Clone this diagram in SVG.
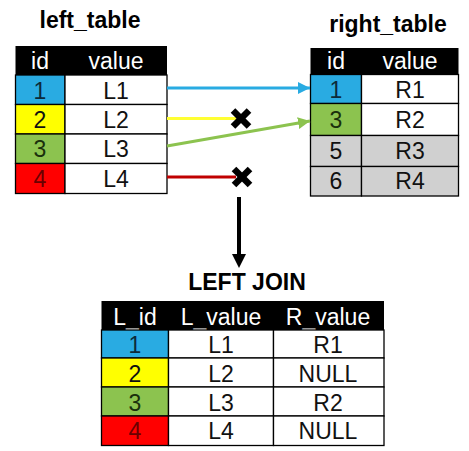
<svg xmlns="http://www.w3.org/2000/svg" width="469" height="451" viewBox="0 0 469 451">
<defs>
<style>
text{font-family:"Liberation Sans",Arial,sans-serif;text-anchor:middle}
.title{font-size:23px;font-weight:bold;fill:#000}
.hd{font-size:23px;fill:#fff}
.c{font-size:23px;fill:#111}
.hdr{fill:#000}
.cell{stroke:#000;stroke-width:1.3}
.w{fill:#fff}
.b{fill:#29abe2}
.y{fill:#ffff00}
.g{fill:#8cc34f}
.r{fill:#ff0000}
.gr{fill:#d0d0d0}
.tb{fill:#0c2a3a}
.tg{fill:#1a300c}
.tr{fill:#6a0000}
.x{stroke:#000;stroke-width:6.5;stroke-linecap:butt}
</style>
<marker id="ab" viewBox="0 0 10 10" refX="10" refY="5" markerWidth="4" markerHeight="4" markerUnits="strokeWidth" orient="auto"><path d="M0,0L10,5L0,10z" fill="#29abe2"/></marker>
<marker id="ag" viewBox="0 0 10 10" refX="10" refY="5" markerWidth="4" markerHeight="4" markerUnits="strokeWidth" orient="auto"><path d="M0,0L10,5L0,10z" fill="#8cc34f"/></marker>
</defs>

<g id="left_table">
<text class="title" x="90" y="28">left_table</text>
<rect class="hdr" x="15.5" y="46" width="151.5" height="29"/>
<text class="hd" x="40" y="69">id</text>
<text class="hd" x="116" y="69">value</text>
<rect class="cell b" x="15.5" y="75" width="49.5" height="29.5"/>
<rect class="cell w" x="65" y="75" width="102" height="29.5"/>
<rect class="cell y" x="15.5" y="104.5" width="49.5" height="29.5"/>
<rect class="cell w" x="65" y="104.5" width="102" height="29.5"/>
<rect class="cell g" x="15.5" y="134" width="49.5" height="29.5"/>
<rect class="cell w" x="65" y="134" width="102" height="29.5"/>
<rect class="cell r" x="15.5" y="163.5" width="49.5" height="30"/>
<rect class="cell w" x="65" y="163.5" width="102" height="30"/>
<text class="c tb" x="40" y="98.5">1</text><text class="c" x="116" y="98.5">L1</text>
<text class="c" x="40" y="128">2</text><text class="c" x="116" y="128">L2</text>
<text class="c tg" x="40" y="157">3</text><text class="c" x="116" y="157">L3</text>
<text class="c tr" x="40" y="186.5">4</text><text class="c" x="116" y="186.5">L4</text>
</g>

<g id="right_table">
<text class="title" x="388" y="32">right_table</text>
<rect class="hdr" x="310.5" y="48" width="148" height="26.5"/>
<text class="hd" x="336" y="69">id</text>
<text class="hd" x="410" y="69">value</text>
<rect class="cell b" x="310.5" y="74.5" width="51" height="29"/>
<rect class="cell w" x="361.5" y="74.5" width="97" height="29"/>
<rect class="cell g" x="310.5" y="103.5" width="51" height="32"/>
<rect class="cell w" x="361.5" y="103.5" width="97" height="32"/>
<rect class="cell gr" x="310.5" y="135.5" width="51" height="31"/>
<rect class="cell gr" x="361.5" y="135.5" width="97" height="31"/>
<rect class="cell gr" x="310.5" y="166.5" width="51" height="29.5"/>
<rect class="cell gr" x="361.5" y="166.5" width="97" height="29.5"/>
<text class="c tb" x="336" y="97.5">1</text><text class="c" x="410" y="97.5">R1</text>
<text class="c tg" x="336" y="128">3</text><text class="c" x="410" y="128">R2</text>
<text class="c" x="336" y="159">5</text><text class="c" x="410" y="159">R3</text>
<text class="c" x="336" y="189">6</text><text class="c" x="410" y="189">R4</text>
</g>

<g id="connectors">
<line x1="167" y1="88" x2="310" y2="88" stroke="#29abe2" stroke-width="3" marker-end="url(#ab)"/>
<line x1="167" y1="118.5" x2="236" y2="118.5" stroke="#ffff33" stroke-width="3"/>
<line x1="167" y1="146" x2="310" y2="121" stroke="#8cc34f" stroke-width="3" marker-end="url(#ag)"/>
<line x1="167" y1="177" x2="236" y2="177" stroke="#c00000" stroke-width="3"/>
<g class="x">
<line x1="233" y1="110.5" x2="249" y2="126.5"/><line x1="249" y1="110.5" x2="233" y2="126.5"/>
<line x1="234" y1="169" x2="250" y2="185"/><line x1="250" y1="169" x2="234" y2="185"/>
</g>
<line x1="239" y1="197" x2="239" y2="256" stroke="#000" stroke-width="4"/>
<path d="M232,254L246,254L239,268z" fill="#000"/>
</g>

<g id="result_table">
<text class="title" x="247" y="290">LEFT JOIN</text>
<rect class="hdr" x="101.5" y="301" width="282.5" height="29"/>
<text class="hd" x="135" y="325">L_id</text>
<text class="hd" x="221" y="325">L_value</text>
<text class="hd" x="328" y="325">R_value</text>
<rect class="cell b" x="101.5" y="330" width="67" height="28"/>
<rect class="cell w" x="168.5" y="330" width="105" height="28"/>
<rect class="cell w" x="273.5" y="330" width="110.5" height="28"/>
<rect class="cell y" x="101.5" y="358" width="67" height="29"/>
<rect class="cell w" x="168.5" y="358" width="105" height="29"/>
<rect class="cell w" x="273.5" y="358" width="110.5" height="29"/>
<rect class="cell g" x="101.5" y="387" width="67" height="29"/>
<rect class="cell w" x="168.5" y="387" width="105" height="29"/>
<rect class="cell w" x="273.5" y="387" width="110.5" height="29"/>
<rect class="cell r" x="101.5" y="416" width="67" height="29.5"/>
<rect class="cell w" x="168.5" y="416" width="105" height="29.5"/>
<rect class="cell w" x="273.5" y="416" width="110.5" height="29.5"/>
<text class="c tb" x="135" y="353">1</text><text class="c" x="221" y="353">L1</text><text class="c" x="328" y="353">R1</text>
<text class="c" x="135" y="382">2</text><text class="c" x="221" y="382">L2</text><text class="c" x="328" y="382">NULL</text>
<text class="c tg" x="135" y="410.5">3</text><text class="c" x="221" y="410.5">L3</text><text class="c" x="328" y="410.5">R2</text>
<text class="c tr" x="135" y="439">4</text><text class="c" x="221" y="439">L4</text><text class="c" x="328" y="439">NULL</text>
</g>
</svg>
